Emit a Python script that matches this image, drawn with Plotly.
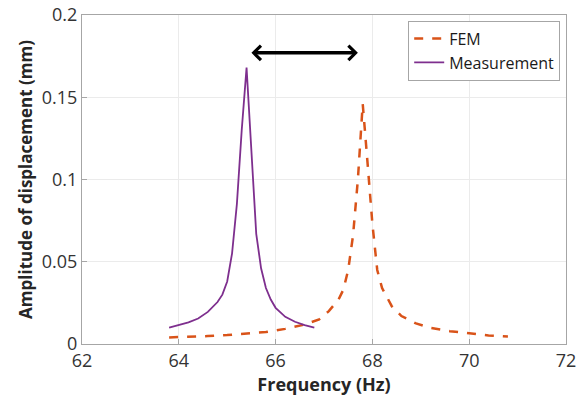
import plotly.graph_objects as go

# Measurement data
meas_freq = [63.8, 64.0, 64.2, 64.4, 64.6, 64.8, 64.9, 65.0, 65.1, 65.2, 65.3, 65.4,
             65.5, 65.6, 65.7, 65.8, 65.9, 66.0, 66.2, 66.4, 66.6, 66.8]
meas_amp = [0.0100, 0.0115, 0.0132, 0.0155, 0.0195, 0.0255, 0.0300, 0.0380, 0.0550, 0.0850,
            0.1300, 0.1680, 0.1180, 0.0670, 0.0460, 0.0340, 0.0270, 0.0220, 0.0165, 0.0135,
            0.0115, 0.0100]

# FEM data
fem_freq = [63.8, 64.2, 64.6, 65.0, 65.4, 65.8, 66.2, 66.6, 66.9, 67.1, 67.3, 67.4, 67.5,
            67.6, 67.7, 67.8, 67.9, 68.0, 68.1, 68.2, 68.4, 68.6, 68.9, 69.2, 69.6, 70.0,
            70.4, 70.8]
fem_amp = [0.0040, 0.0043, 0.0048, 0.0054, 0.0062, 0.0073, 0.0092, 0.0118, 0.0150, 0.0200,
           0.0270, 0.0330, 0.0450, 0.0660, 0.1000, 0.1460, 0.1100, 0.0730, 0.0450, 0.0340,
           0.0230, 0.0170, 0.0125, 0.0098, 0.0078, 0.0063, 0.0052, 0.0045]

# Axis ticks
x_ticks = [62, 64, 66, 68, 70, 72]
y_ticks = [0, 0.05, 0.1, 0.15, 0.2]
y_tick_text = ["0", "0.05", "0.1", "0.15", "0.2"]

# Frequency-shift arrow (data coordinates)
arrow_from = 65.47
arrow_to = 67.70
arrow_level = 0.177

font_family = "Open Sans, Noto Sans, sans-serif"

fig = go.Figure()
fig.add_trace(go.Scatter(x=fem_freq, y=fem_amp, mode="lines", name="FEM",
                         line=dict(color="#D95319", width=2.5, dash="dash")))
fig.add_trace(go.Scatter(x=meas_freq, y=meas_amp, mode="lines", name="Measurement",
                         line=dict(color="#7E2F8E", width=1.8)))

fig.add_annotation(x=arrow_to, y=arrow_level, ax=arrow_from, ay=arrow_level,
                   xref="x", yref="y", axref="x", ayref="y", text="",
                   showarrow=True, arrowhead=4, startarrowhead=4, arrowside="end+start",
                   arrowwidth=3.5, arrowsize=0.8, startarrowsize=0.8, arrowcolor="black")

axis_common = dict(showline=True, linecolor="#a6a6a6", linewidth=1, mirror=True,
                   ticks="inside", ticklen=5, tickcolor="#a6a6a6", automargin=False,
                   ticklabeloverflow="allow",
                   showgrid=True, gridcolor="#ebebeb", gridwidth=1, zeroline=False,
                   tickfont=dict(family=font_family, size=18, color="#333333"))

fig.update_xaxes(range=[62, 72], tickvals=x_ticks,
                 title=dict(text="<b>Frequency (Hz)</b>", standoff=6,
                            font=dict(family=font_family, size=18, color="#262626")),
                 **axis_common)
fig.update_yaxes(range=[0, 0.2], tickvals=y_ticks, ticktext=y_tick_text,
                 title=dict(text="<b>Amplitude of displacement (mm)</b>", standoff=4,
                            font=dict(family=font_family, size=17, color="#262626")),
                 **axis_common)

fig.update_layout(
    width=583, height=398,
    margin=dict(l=82, r=17, t=15, b=54, autoexpand=False),
    plot_bgcolor="white", paper_bgcolor="white",
    font=dict(family=font_family, size=17, color="#262626"),
    legend=dict(x=0.988, y=0.983, xanchor="right", yanchor="top",
                bgcolor="white", bordercolor="#a6a6a6", borderwidth=1,
                font=dict(family=font_family, size=16, color="#1a1a1a"),
                itemwidth=30, tracegroupgap=0),
    showlegend=True,
)

fig.write_html("out.html", config={"displayModeBar": False},
               post_script="document.body.style.margin='0';")
